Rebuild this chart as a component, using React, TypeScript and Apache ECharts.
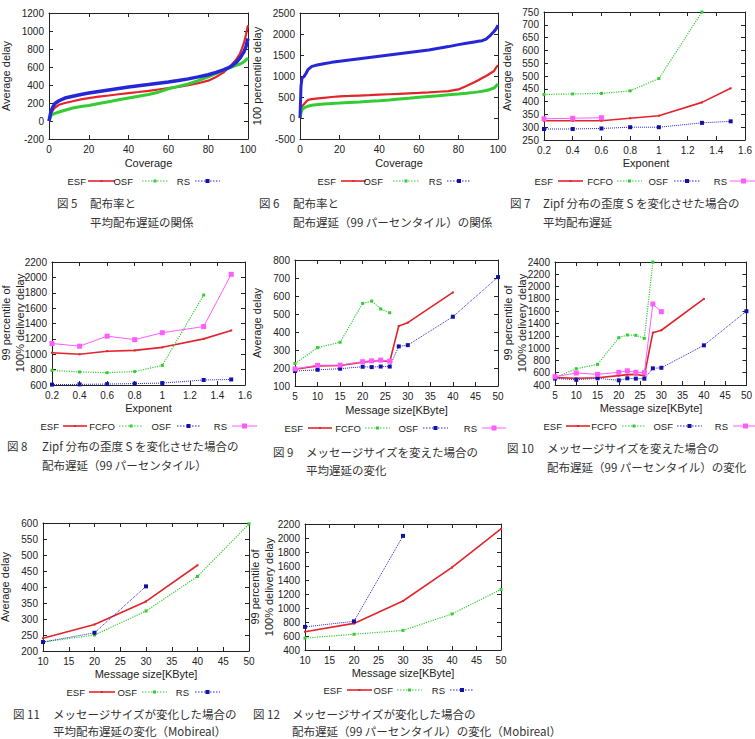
import React, { useEffect, useRef } from "react";
import * as echarts from "echarts";

// ---------- Data ----------
// 図5 Average delay vs Coverage
const f5Coverage = [0, 1, 2, 3, 5, 8, 12, 16, 20, 25, 30, 35, 40, 45, 50, 55, 60, 65, 70, 75, 80, 84, 88, 90, 92, 94, 96, 97, 98, 99, 100];
const f5ESF = [0, 80, 120, 150, 180, 200, 220, 240, 255, 270, 283, 297, 310, 322, 335, 350, 365, 380, 397, 420, 448, 490, 545, 587, 630, 680, 750, 807, 870, 960, 1064];
const f5OSF = [0, 60, 75, 85, 100, 120, 145, 160, 172, 195, 215, 235, 255, 275, 295, 320, 358, 385, 412, 448, 490, 530, 568, 585, 602, 618, 633, 645, 660, 680, 700];
const f5RS = [0, 110, 160, 195, 225, 255, 275, 295, 310, 328, 345, 362, 378, 392, 405, 420, 433, 450, 468, 490, 514, 540, 570, 590, 615, 650, 700, 735, 770, 826, 917];

// 図6 100 percentile delay vs Coverage
const f6Coverage = [0, 0.5, 1, 2, 3, 4, 6, 8, 12, 16, 20, 25, 30, 35, 40, 45, 50, 55, 60, 65, 70, 75, 80, 84, 88, 90, 92, 94, 96, 97, 98, 99, 100];
const f6ESF = [0, 150, 278, 330, 380, 430, 450, 460, 480, 500, 516, 525, 535, 545, 556, 566, 576, 586, 596, 610, 625, 640, 680, 760, 850, 900, 953, 1000, 1060, 1090, 1120, 1200, 1254];
const f6OSF = [0, 120, 198, 240, 260, 280, 302, 315, 335, 348, 357, 370, 383, 397, 413, 430, 450, 470, 492, 512, 532, 552, 572, 590, 610, 622, 635, 655, 680, 700, 715, 760, 810];
const f6RS = [0, 754, 950, 985, 1060, 1150, 1230, 1254, 1290, 1325, 1350, 1380, 1410, 1440, 1470, 1500, 1530, 1560, 1590, 1620, 1660, 1700, 1747, 1780, 1810, 1825, 1840, 1880, 1960, 2010, 2060, 2120, 2207];

// 図7 Average delay vs Exponent
const expX = [0.2, 0.4, 0.6, 0.8, 1.0, 1.3, 1.5];
const f7ESF = [325, 325, 325, 335, 345, 397, 452];
const f7FCFO = [428, 430, 432, 442, 490, 750];
const f7OSF = [293, 293, 295, 300, 300, 317, 323];
const f7RS = [333, 335, 337];

// 図8 99 percentile delay vs Exponent
const f8ESF = [1020, 1000, 1040, 1050, 1090, 1200, 1310];
const f8FCFO = [790, 770, 760, 775, 855, 1770];
const f8OSF = [605, 608, 612, 618, 625, 665, 672];
const f8RS = [1140, 1105, 1235, 1190, 1280, 1360, 2040];

// 図9 / 図10 vs Message size
const sizeX = [5, 10, 15, 20, 22, 24, 26, 28, 30, 40, 50];
const f9ESF = [193, 212, 214, 232, 238, 242, 235, 433, 452, 620];
const f9FCFO = [225, 313, 343, 559, 572, 528, 507];
const f9OSF = [183, 190, 196, 207, 205, 208, 208, 320, 327, 485, 705];
const f9RS = [195, 215, 216, 235, 240, 244, 238];

const f10ESF = [520, 510, 519, 552, 568, 573, 551, 1251, 1290, 1800];
const f10FCFO = [520, 665, 735, 1169, 1213, 1208, 1159, 2400];
const f10OSF = [505, 485, 509, 476, 509, 503, 503, 671, 680, 1045, 1600];
const f10RS = [535, 595, 574, 606, 630, 606, 600, 1717, 1592];

// 図11 / 図12 (Mobireal)
const mobX = [10, 20, 30, 40, 50];
const f11ESF = [240, 283, 355, 468];
const f11OSF = [228, 250, 325, 433, 597];
const f11RS = [228, 257, 402];

const f12ESF = [660, 780, 1100, 1580, 2130];
const f12OSF = [570, 625, 680, 915, 1265];
const f12RS = [730, 810, 2030];

// ---------- Styles ----------
const RED = "#e2242b";
const GREEN = "#33cc33";
const BLUE = "#2626d9";
const DBLUE = "#1212a8";
const MAG = "#ff5cff";
const SANS = "Liberation Sans, Arial, Helvetica, sans-serif";
const CJK = "Noto Sans CJK JP, sans-serif";

type St = { color: string; sym: string; size: number; width: number; type: string; symColor?: string };
const stESF: St = { color: RED, sym: "rect", size: 2, width: 1.6, type: "solid" };
const stOSFg: St = { color: GREEN, sym: "rect", size: 3, width: 1.2, type: "dotted" };
const stRSb: St = { color: BLUE, sym: "rect", size: 4, width: 1, type: "dotted", symColor: DBLUE };
const stFCFO: St = { color: GREEN, sym: "rect", size: 3, width: 1.2, type: "dotted" };
const stOSFb: St = { color: BLUE, sym: "rect", size: 4, width: 1, type: "dotted", symColor: DBLUE };
const stRSm: St = { color: MAG, sym: "rect", size: 5, width: 1, type: "solid" };

const pairs = (xs: number[], ys: number[]) => ys.map((y, i) => [xs[i], y]);

type Spec = {
  L: number; T: number; W: number; H: number;
  x: [number, number, number]; y: [number, number, number];
  xName: string; xNameY: number;
  yName: string; yNameX: number; yNameY: number;
  series: { name: string; data: number[][]; st: St; thick?: number }[];
  legendY: number;
  legend: { name: string; st: St; te: number; ls: number; le: number }[];
  cap: { num: string; numX: number; bodyX: number; l1: string; l2: string; y1: number; y2: number };
};

const specs: Spec[] = [
  {
    L: 49, T: 13, W: 199, H: 126, x: [0, 100, 20], y: [-200, 1200, 200],
    xName: "Coverage", xNameY: 163, yName: "Average delay", yNameX: 6, yNameY: 76,
    series: [
      { name: "ESF", data: pairs(f5Coverage, f5ESF), st: stESF, thick: 2.2 },
      { name: "OSF", data: pairs(f5Coverage, f5OSF), st: stOSFg, thick: 3 },
      { name: "RS", data: pairs(f5Coverage, f5RS), st: stRSb, thick: 3.5 },
    ],
    legendY: 181,
    legend: [
      { name: "ESF", st: stESF, te: 86, ls: 88, le: 115 },
      { name: "OSF", st: stOSFg, te: 133, ls: 142, le: 168 },
      { name: "RS", st: stRSb, te: 190, ls: 195, le: 220 },
    ],
    cap: { num: "図 5", numX: 57, bodyX: 90, l1: "配布率と", l2: "平均配布遅延の関係", y1: 203, y2: 222 },
  },
  {
    L: 300, T: 13, W: 198, H: 126, x: [0, 100, 20], y: [-500, 2500, 500],
    xName: "Coverage", xNameY: 163, yName: "100 percentile delay", yNameX: 257, yNameY: 76,
    series: [
      { name: "ESF", data: pairs(f6Coverage, f6ESF), st: stESF, thick: 2.2 },
      { name: "OSF", data: pairs(f6Coverage, f6OSF), st: stOSFg, thick: 3 },
      { name: "RS", data: pairs(f6Coverage, f6RS), st: stRSb, thick: 3 },
    ],
    legendY: 181,
    legend: [
      { name: "ESF", st: stESF, te: 336, ls: 341, le: 366 },
      { name: "OSF", st: stOSFg, te: 383, ls: 393, le: 419 },
      { name: "RS", st: stRSb, te: 442, ls: 447, le: 471 },
    ],
    cap: { num: "図 6", numX: 259, bodyX: 293, l1: "配布率と", l2: "配布遅延（99 パーセンタイル）の関係", y1: 203, y2: 222 },
  },
  {
    L: 544, T: 12, W: 204, H: 128, x: [0.2, 1.6, 0.2], y: [250, 750, 50],
    xName: "Exponent", xNameY: 163, yName: "Average delay", yNameX: 507, yNameY: 76,
    series: [
      { name: "ESF", data: pairs(expX, f7ESF), st: stESF },
      { name: "FCFO", data: pairs(expX, f7FCFO), st: stFCFO },
      { name: "OSF", data: pairs(expX, f7OSF), st: stOSFb },
      { name: "RS", data: pairs(expX, f7RS), st: stRSm },
    ],
    legendY: 181,
    legend: [
      { name: "ESF", st: stESF, te: 553, ls: 558, le: 583 },
      { name: "FCFO", st: stFCFO, te: 613, ls: 617, le: 642 },
      { name: "OSF", st: stOSFb, te: 668, ls: 674, le: 700 },
      { name: "RS", st: stRSm, te: 727, ls: 730, le: 757 },
    ],
    cap: { num: "図 7", numX: 510, bodyX: 543, l1: "Zipf 分布の歪度 S を変化させた場合の", l2: "平均配布遅延", y1: 203, y2: 222 },
  },
  {
    L: 52, T: 262, W: 193, H: 123, x: [0.2, 1.6, 0.2], y: [600, 2200, 200],
    xName: "Exponent", xNameY: 408, yName: "99 percentile of\n100% delivery delay", yNameX: 12.5, yNameY: 323,
    series: [
      { name: "ESF", data: pairs(expX, f8ESF), st: stESF },
      { name: "FCFO", data: pairs(expX, f8FCFO), st: stFCFO },
      { name: "OSF", data: pairs(expX, f8OSF), st: stOSFb },
      { name: "RS", data: pairs(expX, f8RS), st: stRSm },
    ],
    legendY: 426,
    legend: [
      { name: "ESF", st: stESF, te: 59, ls: 63, le: 87 },
      { name: "FCFO", st: stFCFO, te: 115, ls: 119, le: 143 },
      { name: "OSF", st: stOSFb, te: 171, ls: 177, le: 200 },
      { name: "RS", st: stRSm, te: 227, ls: 232, le: 257 },
    ],
    cap: { num: "図 8", numX: 7, bodyX: 42, l1: "Zipf 分布の歪度 S を変化させた場合の", l2: "配布遅延（99 パーセンタイル）", y1: 446, y2: 465 },
  },
  {
    L: 295, T: 260, W: 203, H: 126, x: [5, 50, 5], y: [100, 800, 100],
    xName: "Message size[KByte]", xNameY: 410, yName: "Average delay", yNameX: 257, yNameY: 323,
    series: [
      { name: "ESF", data: pairs(sizeX, f9ESF), st: stESF },
      { name: "FCFO", data: pairs(sizeX, f9FCFO), st: stFCFO },
      { name: "OSF", data: pairs(sizeX, f9OSF), st: stOSFb },
      { name: "RS", data: pairs(sizeX, f9RS), st: stRSm },
    ],
    legendY: 428,
    legend: [
      { name: "ESF", st: stESF, te: 303, ls: 308, le: 332 },
      { name: "FCFO", st: stFCFO, te: 361, ls: 365, le: 390 },
      { name: "OSF", st: stOSFb, te: 418, ls: 423, le: 448 },
      { name: "RS", st: stRSm, te: 477, ls: 482, le: 506 },
    ],
    cap: { num: "図 9", numX: 273, bodyX: 306, l1: "メッセージサイズを変えた場合の", l2: "平均遅延の変化", y1: 452, y2: 470 },
  },
  {
    L: 555, T: 262, W: 192, H: 123, x: [5, 50, 5], y: [400, 2400, 200],
    xName: "Message size[KByte]", xNameY: 408, yName: "99 percentile of\n100% delivery delay", yNameX: 514.5, yNameY: 323,
    series: [
      { name: "ESF", data: pairs(sizeX, f10ESF), st: stESF },
      { name: "FCFO", data: pairs(sizeX, f10FCFO), st: stFCFO },
      { name: "OSF", data: pairs(sizeX, f10OSF), st: stOSFb },
      { name: "RS", data: pairs(sizeX, f10RS), st: stRSm },
    ],
    legendY: 426,
    legend: [
      { name: "ESF", st: stESF, te: 562, ls: 566, le: 590 },
      { name: "FCFO", st: stFCFO, te: 617, ls: 622, le: 646 },
      { name: "OSF", st: stOSFb, te: 673, ls: 677, le: 702 },
      { name: "RS", st: stRSm, te: 728, ls: 733, le: 758 },
    ],
    cap: { num: "図 10", numX: 507, bodyX: 547, l1: "メッセージサイズを変えた場合の", l2: "配布遅延（99 パーセンタイル）の変化", y1: 448, y2: 467 },
  },
  {
    L: 43, T: 523, W: 206, H: 128, x: [10, 50, 5], y: [200, 600, 50],
    xName: "Message size[KByte]", xNameY: 674, yName: "Average delay", yNameX: 5, yNameY: 587,
    series: [
      { name: "ESF", data: pairs(mobX, f11ESF), st: stESF },
      { name: "OSF", data: pairs(mobX, f11OSF), st: stOSFg },
      { name: "RS", data: pairs(mobX, f11RS), st: stRSb },
    ],
    legendY: 692,
    legend: [
      { name: "ESF", st: stESF, te: 85, ls: 89, le: 115 },
      { name: "OSF", st: stOSFg, te: 137, ls: 142, le: 167 },
      { name: "RS", st: stRSb, te: 189, ls: 195, le: 220 },
    ],
    cap: { num: "図 11", numX: 13, bodyX: 53, l1: "メッセージサイズが変化した場合の", l2: "平均配布遅延の変化（Mobireal）", y1: 714, y2: 731 },
  },
  {
    L: 305, T: 524, W: 196, H: 126, x: [10, 50, 5], y: [400, 2200, 200],
    xName: "Message size[KByte]", xNameY: 673, yName: "99 percentile of\n100% delivery delay", yNameX: 262, yNameY: 587,
    series: [
      { name: "ESF", data: pairs(mobX, f12ESF), st: stESF },
      { name: "OSF", data: pairs(mobX, f12OSF), st: stOSFg },
      { name: "RS", data: pairs(mobX, f12RS), st: stRSb },
    ],
    legendY: 690,
    legend: [
      { name: "ESF", st: stESF, te: 342, ls: 347, le: 372 },
      { name: "OSF", st: stOSFg, te: 393, ls: 397, le: 422 },
      { name: "RS", st: stRSb, te: 445, ls: 450, le: 474 },
    ],
    cap: { num: "図 12", numX: 253, bodyX: 292, l1: "メッセージサイズが変化した場合の", l2: "配布遅延（99 パーセンタイル）の変化（Mobireal）", y1: 714, y2: 731 },
  },
];

const fmt = (v: number) => String(Math.round(v * 1000) / 1000);

function buildOption() {
  const grid: any[] = [];
  const xAxis: any[] = [];
  const yAxis: any[] = [];
  const series: any[] = [];
  const graphic: any[] = [];
  const lineCol = "#222";

  specs.forEach((s, i) => {
    grid.push({ left: s.L, top: s.T, width: s.W, height: s.H, containLabel: false });
    const tick = { show: true, inside: true, length: 4, lineStyle: { color: lineCol, width: 1 } };
    const axLine = { show: true, onZero: false, lineStyle: { color: lineCol, width: 1 } };
    xAxis.push({
      type: "value", gridIndex: i, position: "bottom", min: s.x[0], max: s.x[1], interval: s.x[2],
      axisLine: axLine, axisTick: tick, splitLine: { show: false },
      axisLabel: { margin: 5, fontSize: 10, color: "#222", fontFamily: SANS, formatter: fmt },
    });
    xAxis.push({
      type: "value", gridIndex: i, position: "top", min: s.x[0], max: s.x[1], interval: s.x[2],
      axisLine: axLine, axisTick: tick, splitLine: { show: false }, axisLabel: { show: false },
    });
    yAxis.push({
      type: "value", gridIndex: i, position: "left", min: s.y[0], max: s.y[1], interval: s.y[2],
      axisLine: axLine, axisTick: tick, splitLine: { show: false },
      axisLabel: { margin: 5, fontSize: 10, color: "#222", fontFamily: SANS, formatter: fmt },
    });
    yAxis.push({
      type: "value", gridIndex: i, position: "right", min: s.y[0], max: s.y[1], interval: s.y[2],
      axisLine: axLine, axisTick: tick, splitLine: { show: false }, axisLabel: { show: false },
    });
    s.series.forEach((se) => {
      series.push({
        type: "line", name: se.name, xAxisIndex: 2 * i, yAxisIndex: 2 * i, data: se.data,
        symbol: se.thick ? "none" : se.st.sym, symbolSize: se.st.size, showSymbol: !se.thick,
        lineStyle: { color: se.st.color, width: se.thick || se.st.width, type: se.thick ? "solid" : se.st.type },
        itemStyle: { color: se.st.symColor || se.st.color },
        clip: true, silent: true,
      });
    });
    // axis names
    graphic.push({
      type: "text", x: s.L + s.W / 2, y: s.xNameY,
      style: { text: s.xName, fontSize: 11, fontFamily: SANS, fill: "#222", textAlign: "center", textVerticalAlign: "middle" },
    });
    graphic.push({
      type: "text", x: s.yNameX, y: s.yNameY, rotation: Math.PI / 2,
      style: { text: s.yName, fontSize: 11, lineHeight: 14, fontFamily: SANS, fill: "#222", textAlign: "center", textVerticalAlign: "middle" },
    });
    // legend
    s.legend.forEach((lg) => {
      graphic.push({
        type: "text", x: lg.te, y: s.legendY,
        style: { text: lg.name, fontSize: 9.5, fontFamily: SANS, fill: "#222", textAlign: "right", textVerticalAlign: "middle" },
      });
      graphic.push({
        type: "line", shape: { x1: lg.ls, y1: s.legendY, x2: lg.le, y2: s.legendY },
        style: { stroke: lg.st.color, lineWidth: lg.st.width, lineDash: lg.st.type === "dotted" ? [1.5, 1.5] : null },
      });
      const m = lg.st.size;
      const cx = (lg.ls + lg.le) / 2;
      graphic.push({
        type: "rect", shape: { x: cx - m / 2, y: s.legendY - m / 2, width: m, height: m },
        style: { fill: lg.st.symColor || lg.st.color },
      });
    });
    // caption
    const capStyle = { fontSize: 11.5, fontFamily: CJK, fill: "#333", textAlign: "left", textVerticalAlign: "middle" };
    graphic.push({ type: "text", x: s.cap.numX, y: s.cap.y1, style: { ...capStyle, text: s.cap.num } });
    graphic.push({ type: "text", x: s.cap.bodyX, y: s.cap.y1, style: { ...capStyle, text: s.cap.l1 } });
    graphic.push({ type: "text", x: s.cap.bodyX, y: s.cap.y2, style: { ...capStyle, text: s.cap.l2 } });
  });

  return {
    animation: false,
    backgroundColor: "#ffffff",
    grid, xAxis, yAxis, series, graphic,
  };
}

export default function App() {
  const ref = useRef<HTMLDivElement>(null);
  useEffect(() => {
    if (!ref.current) return;
    const chart = echarts.init(ref.current, undefined, { renderer: "svg" });
    chart.setOption(buildOption());
    return () => chart.dispose();
  }, []);
  return (
    <div
      ref={ref}
      style={{ position: "absolute", left: 0, top: 0, width: 755, height: 739, background: "#fff" }}
    />
  );
}
